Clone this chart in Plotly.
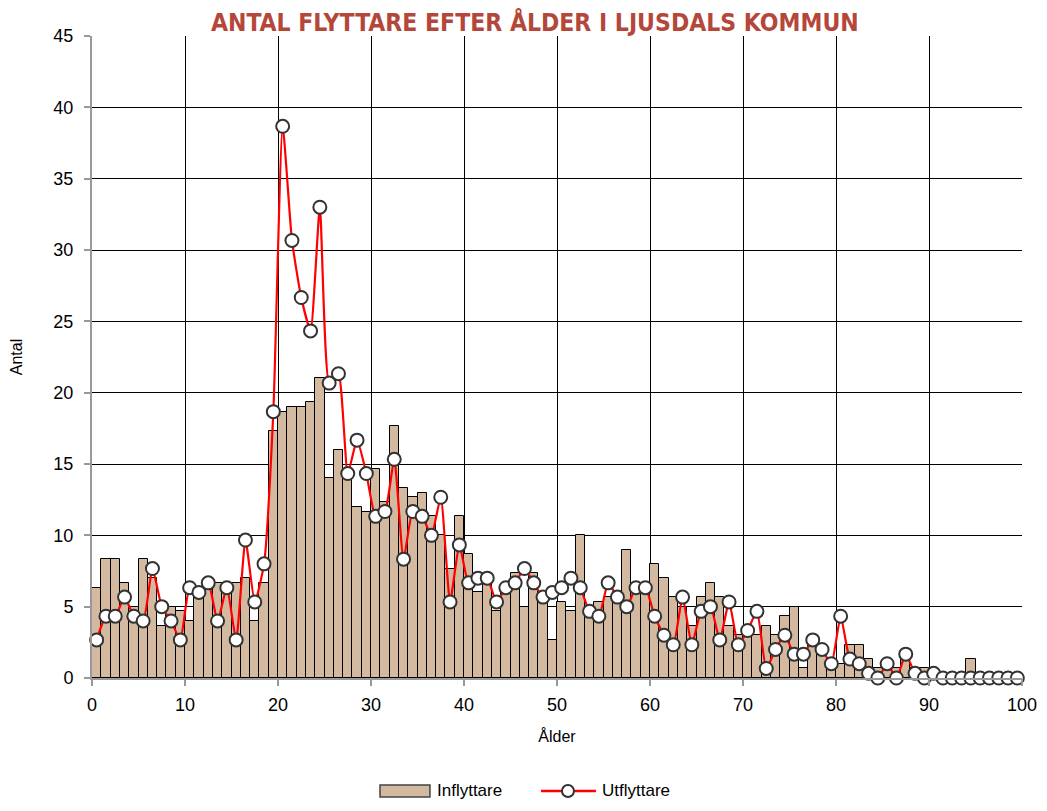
import plotly.graph_objects as go

# ålder 0..100
ages = list(range(0, 101))

inflyttare = [
    6.33, 8.33, 8.33, 6.67, 5.0, 8.33, 7.0, 3.67, 5.0, 4.67,
    4.0, 6.33, 6.67, 6.67, 6.67, 6.67, 7.0, 4.0, 6.67, 17.33,
    18.67, 19.0, 19.0, 19.33, 21.0, 14.0, 16.0, 14.0, 12.0, 11.67,
    14.67, 12.33, 17.67, 13.33, 12.67, 13.0, 11.33, 10.0, 7.67, 11.33,
    8.67, 6.0, 6.67, 4.67, 6.0, 7.33, 5.0, 7.33, 6.0, 2.67,
    5.33, 4.67, 10.0, 4.67, 5.33, 5.67, 6.0, 9.0, 6.67, 6.33,
    8.0, 7.0, 5.67, 5.0, 3.67, 5.67, 6.67, 5.67, 3.67, 3.0,
    3.0, 3.0, 3.67, 3.0, 4.33, 5.0, 0.67, 2.67, 1.67, 0.67,
    1.0, 2.33, 2.33, 1.33, 0.67, 0.67, 0.67, 1.33, 0.67, 0.67,
    0, 0, 0, 0, 1.33, 0, 0, 0, 0, 0,
    0,
]

utflyttare = [
    2.67, 4.33, 4.33, 5.67, 4.33, 4.0, 7.67, 5.0, 4.0, 2.67,
    6.33, 6.0, 6.67, 4.0, 6.33, 2.67, 9.67, 5.33, 8.0, 18.67,
    38.67, 30.67, 26.67, 24.33, 33.0, 20.67, 21.33, 14.33, 16.67, 14.33,
    11.33, 11.67, 15.33, 8.33, 11.67, 11.33, 10.0, 12.67, 5.33, 9.33,
    6.67, 7.0, 7.0, 5.33, 6.33, 6.67, 7.67, 6.67, 5.67, 6.0,
    6.33, 7.0, 6.33, 4.67, 4.33, 6.67, 5.67, 5.0, 6.33, 6.33,
    4.33, 3.0, 2.33, 5.67, 2.33, 4.67, 5.0, 2.67, 5.33, 2.33,
    3.33, 4.67, 0.67, 2.0, 3.0, 1.67, 1.67, 2.67, 2.0, 1.0,
    4.33, 1.33, 1.0, 0.33, 0, 1.0, 0, 1.67, 0.33, 0,
    0.33, 0, 0, 0, 0, 0, 0, 0, 0, 0,
    0,
]

x_tick_vals = list(range(0, 101, 10))
y_tick_vals = list(range(0, 46, 5))

bar_color = "#d3b9a0"
line_color = "#ff0000"
font_main = "Liberation Sans, Arial, sans-serif"

bar_x = [a + 0.5 for a in ages]

fig = go.Figure()

fig.add_bar(
    x=bar_x, y=inflyttare, name="Inflyttare", width=1,
    marker=dict(color=bar_color, line=dict(color="black", width=1)),
)

fig.add_scatter(
    x=bar_x, y=utflyttare, name="Utflyttare", mode="lines+markers",
    line=dict(color=line_color, width=2.2, shape="spline", smoothing=0.5),
    marker=dict(size=13, color="white", line=dict(color="#333333", width=2)),
    cliponaxis=False,
)

# legend under the chart, drawn by hand (wide bar swatch like the original)
leg_y = -0.176
fig.add_shape(type="rect", xref="paper", yref="paper",
              x0=0.3097, x1=0.3634, y0=-0.1854, y1=-0.1667,
              fillcolor=bar_color, line=dict(color="#444444", width=1.5))
fig.add_annotation(text="Inflyttare", xref="paper", yref="paper",
                   x=0.3688, y=leg_y, xanchor="left", yanchor="middle",
                   showarrow=False, font=dict(family=font_main, size=17, color="black"))
fig.add_shape(type="line", xref="paper", yref="paper",
              x0=0.4828, x1=0.5419, y0=leg_y, y1=leg_y,
              line=dict(color=line_color, width=2.5))
fig.add_shape(type="circle", xref="paper", yref="paper",
              xsizemode="pixel", ysizemode="pixel", xanchor=0.5118, yanchor=leg_y,
              x0=-6, x1=6, y0=-6, y1=6,
              fillcolor="white", line=dict(color="#333333", width=2))
fig.add_annotation(text="Utflyttare", xref="paper", yref="paper",
                   x=0.546, y=leg_y, xanchor="left", yanchor="middle",
                   showarrow=False, font=dict(family=font_main, size=17, color="black"))

fig.update_layout(
    width=1031, height=795,
    margin=dict(l=84, r=17, t=28, b=125),
    paper_bgcolor="white", plot_bgcolor="white",
    title=dict(
        text="<b>ANTAL FLYTTARE EFTER ÅLDER I LJUSDALS KOMMUN</b>",
        x=0.511, xanchor="center", y=0.9824, yanchor="middle",
        font=dict(family="Liberation Sans Narrow, DejaVu Sans Condensed, Arial Narrow, sans-serif",
                  size=24.5, color="#b4473a"),
    ),
    bargap=0,
    showlegend=False,
    font=dict(family=font_main, color="black"),
)

fig.update_xaxes(
    range=[0, 100], tickvals=x_tick_vals, automargin=False,
    showgrid=True, gridcolor="black", gridwidth=1,
    showline=True, linecolor="#999999", linewidth=2,
    ticks="outside", ticklen=6, tickcolor="#999999", tickwidth=2,
    tickfont=dict(size=18), zeroline=False, ticklabelstandoff=3,
    title=dict(text="Ålder", font=dict(size=16), standoff=17),
)

fig.update_yaxes(
    range=[0, 45], tickvals=y_tick_vals, automargin=False,
    showgrid=True, gridcolor="black", gridwidth=1,
    showline=True, linecolor="#999999", linewidth=2,
    ticks="outside", ticklen=6, tickcolor="#999999", tickwidth=2,
    tickfont=dict(size=18), zeroline=False, ticklabelstandoff=7,
    title=dict(text="Antal", font=dict(size=16), standoff=31),
)

fig.write_html("out.html")
